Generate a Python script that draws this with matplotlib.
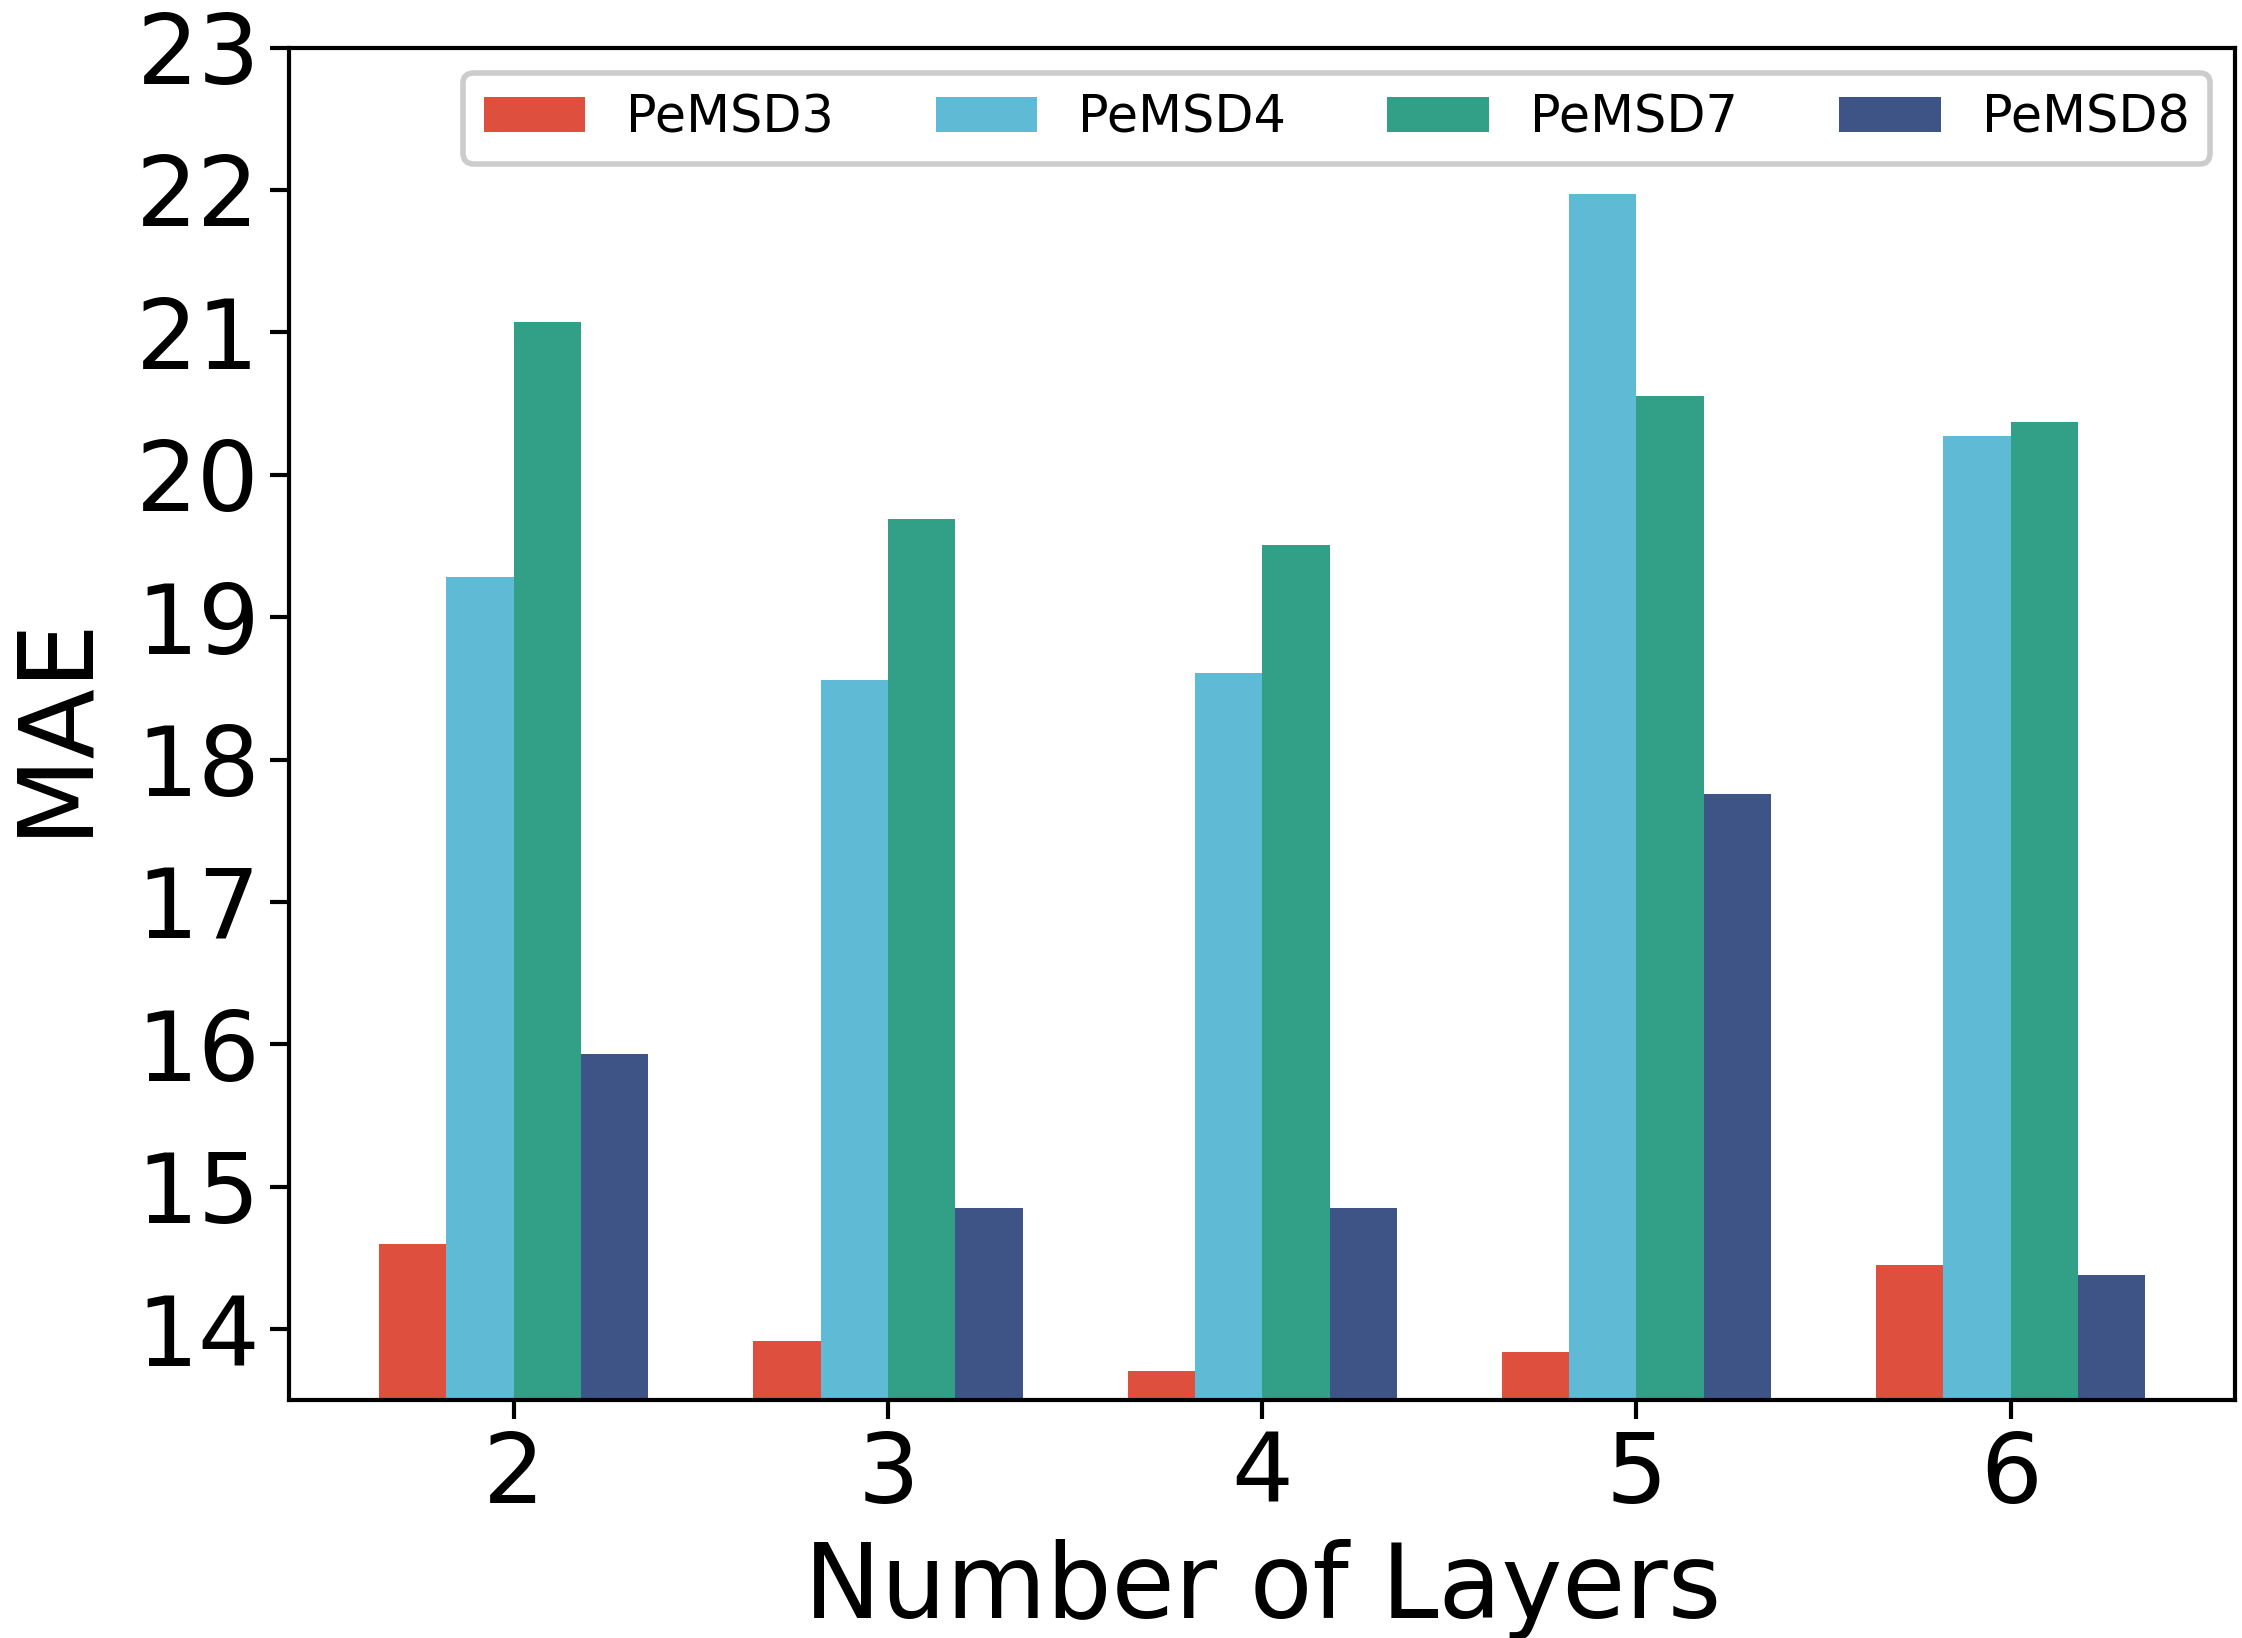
import matplotlib
matplotlib.use("Agg")
import matplotlib.pyplot as plt
import numpy as np

layers = [2, 3, 4, 5, 6]
series_names = ["PeMSD3", "PeMSD4", "PeMSD7", "PeMSD8"]
pemsd3 = [14.60, 13.92, 13.71, 13.84, 14.45]
pemsd4 = [19.28, 18.56, 18.61, 21.97, 20.27]
pemsd7 = [21.07, 19.69, 19.51, 20.55, 20.37]
pemsd8 = [15.93, 14.85, 14.85, 17.76, 14.38]
colors = ["#DF4F3D", "#5EBAD5", "#31A087", "#3E5487"]
yticks = [14, 15, 16, 17, 18, 19, 20, 21, 22, 23]

fig = plt.figure(figsize=(11.21, 8.19), dpi=200)
ax = fig.add_axes([0.129, 0.145, 0.868, 0.826])

width = 0.18
x = np.array(layers, dtype=float)
all_series = [pemsd3, pemsd4, pemsd7, pemsd8]
for i, (name, vals, c) in enumerate(zip(series_names, all_series, colors)):
    ax.bar(x + (i - 1.5) * width, vals, width=width, color=c, label=name)

ax.set_xlim(1.4, 6.6)
ax.set_ylim(13.5, 23)
ax.set_xticks(layers)
ax.set_yticks(yticks)
ax.tick_params(axis="both", labelsize=35, length=7, width=1.5)
for s in ax.spines.values():
    s.set_linewidth(1.5)
    s.set_color("black")
ax.set_xlabel("Number of Layers", fontsize=37, labelpad=6)
ax.set_ylabel("MAE", fontsize=37, labelpad=11)

leg = ax.legend(loc="upper right", ncol=4, fontsize=18.3, frameon=True,
                fancybox=True, framealpha=1.0)
leg.get_frame().set_edgecolor("#cccccc")
leg.get_frame().set_linewidth(2.0)

fig.savefig("out.png", dpi=200)
